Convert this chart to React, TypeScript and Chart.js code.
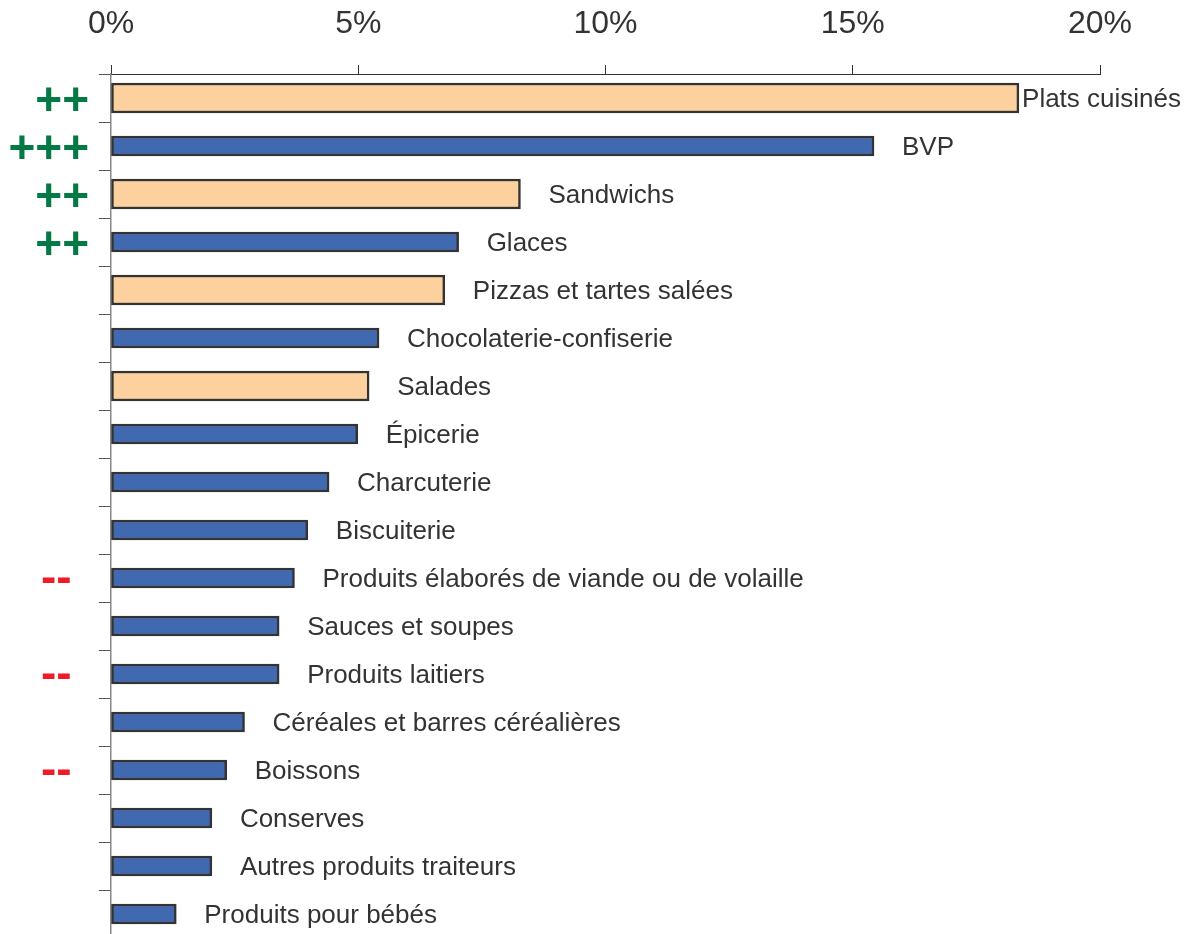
import React, { useEffect, useRef } from 'react';
import { Chart, registerables } from 'chart.js';

Chart.register(...registerables);

const categories = [
  'Plats cuisinés',
  'BVP',
  'Sandwichs',
  'Glaces',
  'Pizzas et tartes salées',
  'Chocolaterie-confiserie',
  'Salades',
  'Épicerie',
  'Charcuterie',
  'Biscuiterie',
  'Produits élaborés de viande ou de volaille',
  'Sauces et soupes',
  'Produits laitiers',
  'Céréales et barres céréalières',
  'Boissons',
  'Conserves',
  'Autres produits traiteurs',
  'Produits pour bébés',
];

// share (%) per category
const shares = [18.36, 15.43, 8.28, 7.03, 6.75, 5.42, 5.22, 4.99, 4.41, 3.98, 3.71, 3.4, 3.4, 2.7, 2.34, 2.04, 2.04, 1.32];

// categories drawn in the light (orange) series
const highlighted = [true, false, true, false, true, false, true, false, false, false, false, false, false, false, false, false, false, false];

// trend markers shown left of the axis
const trendMarks = ['++', '+++', '++', '++', '', '', '', '', '', '', '--', '', '--', '', '--', '', '', ''];

const xTicks = [0, 5, 10, 15, 20];

const FONT = '"Liberation Sans", Arial, Helvetica, sans-serif';
const TEXT = '#333333';
const GREEN = '#037a45';
const RED = '#ee1c25';
const ORANGE = '#fdd19e';
const BLUE = '#4169af';
const LABEL_GAP = 28;

const annotate = {
  id: 'annotate',
  afterDatasetsDraw(chart: any) {
    const ctx = chart.ctx;
    ctx.save();
    categories.forEach((cat, i) => {
      const ds = highlighted[i] ? 0 : 1;
      const bar = chart.getDatasetMeta(ds).data[i];
      if (!bar) return;
      const y = bar.y;
      ctx.font = `26px ${FONT}`;
      ctx.fillStyle = TEXT;
      ctx.textBaseline = 'middle';
      ctx.textAlign = 'left';
      const w = ctx.measureText(cat).width;
      let x = bar.x + LABEL_GAP;
      if (x + w > chart.width - 10) x = Math.max(bar.x + 3, chart.width - 10 - w);
      ctx.fillText(cat, x, y + 2);
      const mark = trendMarks[i];
      if (mark) {
        const plus = mark.includes('+');
        ctx.font = `bold 46px ${FONT}`;
        ctx.fillStyle = plus ? GREEN : RED;
        if (plus) {
          ctx.textAlign = 'right';
          ctx.fillText(mark, 89, y + 4);
        } else {
          ctx.textAlign = 'left';
          ctx.fillText(mark, 41, y + 1);
        }
      }
    });
    ctx.restore();
  },
};

export default function App() {
  const ref = useRef<HTMLCanvasElement>(null);

  useEffect(() => {
    if (!ref.current) return;
    const chart = new Chart(ref.current, {
      type: 'bar',
      data: {
        labels: categories,
        datasets: [
          {
            data: shares.map((v, i) => (highlighted[i] ? v : null)),
            backgroundColor: ORANGE,
            borderColor: TEXT,
            borderWidth: 2.5,
            borderSkipped: false,
            barThickness: 30,
            grouped: false,
          } as any,
          {
            data: shares.map((v, i) => (highlighted[i] ? null : v)),
            backgroundColor: BLUE,
            borderColor: TEXT,
            borderWidth: 2.5,
            borderSkipped: false,
            barThickness: 20,
            grouped: false,
          } as any,
        ],
      },
      options: {
        indexAxis: 'y',
        animation: false,
        responsive: false,
        devicePixelRatio: 1,
        layout: { padding: { left: 99, right: 91, top: 3, bottom: 0 } },
        plugins: {
          legend: { display: false },
          tooltip: { enabled: false },
        },
        scales: {
          x: {
            type: 'linear',
            position: 'top',
            min: 0,
            max: 20,
            afterBuildTicks: (axis: any) => {
              axis.ticks = xTicks.map((v) => ({ value: v }));
            },
            afterFit: (axis: any) => {
              axis.height = 71;
            },
            ticks: {
              callback: (v: any) => `${v}%`,
              font: { size: 32, family: FONT },
              color: TEXT,
              padding: 22,
              maxRotation: 0,
            },
            grid: { drawOnChartArea: false, tickLength: 9, color: TEXT, lineWidth: 1 },
            border: { color: TEXT, width: 1 },
          },
          y: {
            type: 'category',
            offset: true,
            ticks: { display: false },
            grid: { offset: true, drawOnChartArea: false, tickLength: 12, color: '#555555', lineWidth: 1 },
            border: { color: '#888888', width: 1.5 },
          },
        },
      } as any,
      plugins: [annotate],
    });
    return () => chart.destroy();
  }, []);

  return (
    <div style={{ position: 'absolute', left: 0, top: 0, width: 1191, height: 938, background: '#fff' }}>
      <canvas ref={ref} width={1191} height={938} style={{ display: 'block' }} />
    </div>
  );
}
